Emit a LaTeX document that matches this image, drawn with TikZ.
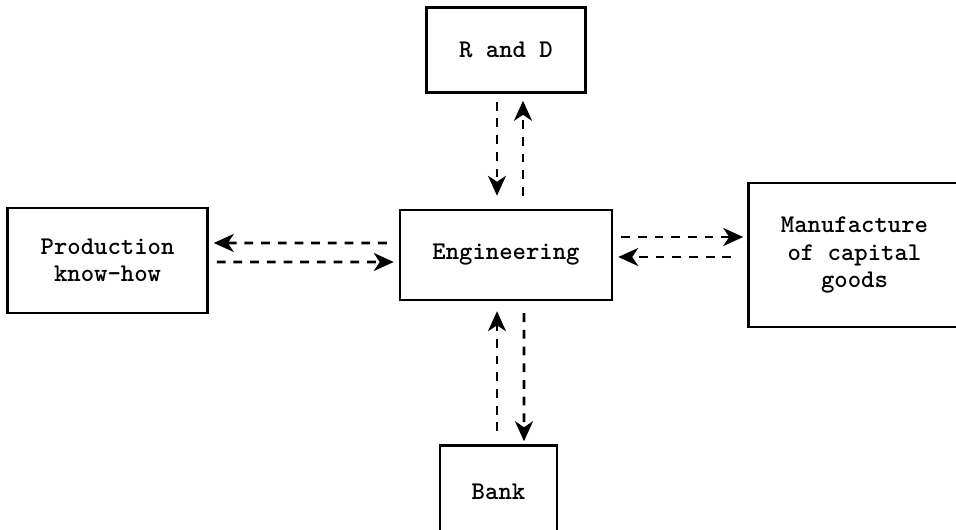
\documentclass[tikz,border=0pt]{standalone}
\usepackage{tikz}
\usetikzlibrary{arrows.meta, positioning}
\tikzset{
  unit/.style={
    rectangle, draw=black, line width=1.4pt,
    text centered, align=center,
    font=\ttfamily\bfseries\fontsize{14.5}{15.5}\selectfont},
  flow/.style={-{Stealth[length=4mm,width=3.6mm,inset=1.2mm]}, line width=1.5pt,
    dash pattern=on 5pt off 4.5pt},
}
\begin{document}
\begin{tikzpicture}[node distance=2cm]

  \useasboundingbox (-10.12,5.1) rectangle (9.0,-5.5);

  \node[unit, minimum width=4.24cm, minimum height=1.8cm] (eng) at (0,0)
    {Engineering};

  \node[unit, minimum width=3.18cm, minimum height=1.7cm,
        above=2.3cm of eng] (rnd) {R and D};

  \node[unit, minimum width=2.34cm, minimum height=1.86cm,
        below=2.86cm of eng, xshift=-0.15cm] (bank) {Bank};

  \node[unit, minimum width=4cm, minimum height=2.1cm,
        left=3.8cm of eng, yshift=-0.11cm] (prod)
    {Production\\know-how};

  \node[unit, minimum width=4.24cm, minimum height=2.88cm,
        right=2.68cm of eng] (manu)
    {Manufacture\\of capital\\goods};

  % R and D <-> Engineering
  \draw[flow] ([xshift=-0.18cm,yshift=-0.16cm]rnd.south)
           -- ([xshift=-0.18cm,yshift=0.26cm]eng.north);
  \draw[flow] ([xshift=0.34cm,yshift=0.26cm]eng.north)
           -- ([xshift=0.34cm,yshift=-0.14cm]rnd.south);

  % Production know-how <-> Engineering
  \draw[flow] ([xshift=-0.24cm,yshift=0.24cm]eng.west)
           -- ([xshift=0.1cm,yshift=0.35cm]prod.east);
  \draw[flow] ([xshift=0.16cm,yshift=-0.03cm]prod.east)
           -- ([xshift=-0.1cm,yshift=-0.14cm]eng.west);

  % Engineering <-> Manufacture
  \draw[flow] ([xshift=0.16cm,yshift=0.36cm]eng.east)
           -- ([xshift=-0.08cm,yshift=0.36cm]manu.west);
  \draw[flow] ([xshift=-0.32cm,yshift=-0.04cm]manu.west)
           -- ([xshift=0.1cm,yshift=-0.04cm]eng.east);

  % Bank <-> Engineering
  \draw[flow] ([xshift=-0.03cm,yshift=0.26cm]bank.north)
           -- ([xshift=-0.18cm,yshift=-0.2cm]eng.south);
  \draw[flow] ([xshift=0.36cm,yshift=-0.24cm]eng.south)
           -- ([xshift=0.51cm,yshift=0.06cm]bank.north);

\end{tikzpicture}
\end{document}
